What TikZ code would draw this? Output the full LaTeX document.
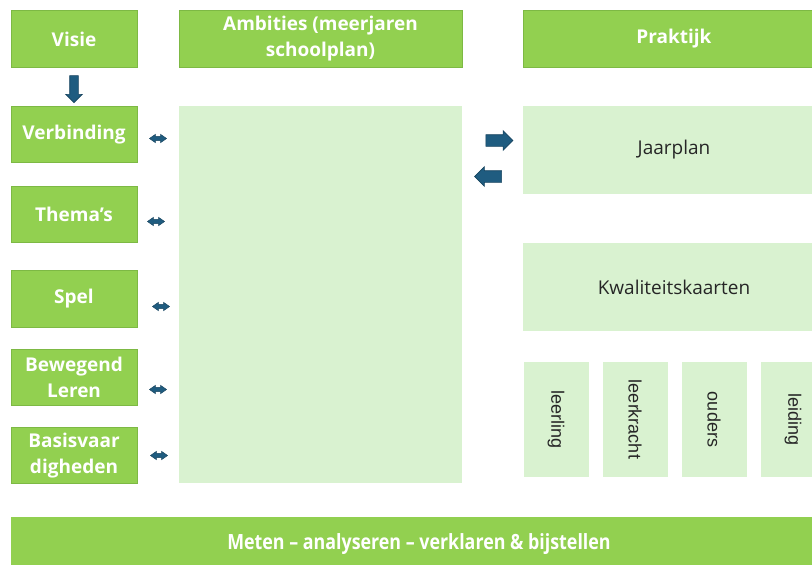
\documentclass[tikz,border=0pt]{standalone}
\usepackage{fontspec}
\setmainfont{Open Sans}
\newfontfamily\staandfont{Liberation Sans}
\usetikzlibrary{calc,shapes.arrows}
\definecolor{groen}{HTML}{92D050}
\definecolor{groenrand}{HTML}{7DB944}
\definecolor{lichtgroen}{HTML}{D9F2D0}
\definecolor{pijlblauw}{HTML}{1F5C80}
\definecolor{pijlrand}{HTML}{17445F}
\tikzset{
    kop/.style={draw=groenrand, fill=groen, text=white, align=center, inner sep=0pt,
        font=\bfseries\fontsize{19}{26}\selectfont},
    vak/.style={fill=lichtgroen, text=black!85, inner sep=0pt,
        font=\fontsize{19}{23}\selectfont},
    staand/.style={vak, rotate=-90, minimum width=115pt, minimum height=65pt,
        font=\staandfont\fontsize{18}{20}\selectfont},
    blokpijl/.style={single arrow, fill=pijlblauw, draw=pijlrand, line width=0.6pt, inner sep=0pt,
        minimum height=27pt},
    dubbelpijl/.style={double arrow, fill=pijlblauw, draw=pijlrand, line width=0.5pt, inner sep=1.9pt,
        double arrow head extend=1.9pt, double arrow tip angle=70, minimum height=17pt}
}
\begin{document}
\begin{tikzpicture}[x=1pt, y=-1pt]
    \useasboundingbox (0,0) rectangle (812,565);
    \clip (0,0) rectangle (812,565);
    % kopjes
    \node[kop, minimum width=126pt, minimum height=57pt, name=visie] at (74, 39) {Visie};
    \node[kop, minimum width=283pt, minimum height=57pt, name=ambities] at (320.5, 39) {Ambities (meerjaren\\schoolplan)};
    \node[kop, minimum width=302pt, minimum height=57pt, name=praktijk] at (674, 39) {Praktijk};
    % linker kolom
    \node[kop, minimum width=126pt, minimum height=56pt, name=verbinding] at (74, 134.5) {Verbinding};
    \node[kop, minimum width=126pt, minimum height=56pt, name=themas] at (74, 214.5) {Thema's};
    \node[kop, minimum width=126pt, minimum height=57pt, name=spel] at (74, 298.5) {Spel};
    \node[kop, minimum width=126pt, minimum height=56pt, name=bewegend] at (74, 377.5) {Bewegend\\Leren};
    \node[kop, minimum width=126pt, minimum height=56pt, name=basis] at (74, 455.5) {Basisvaar\\digheden};
    % midden en rechts
    \node[vak, minimum width=283pt, minimum height=377pt, name=ambities_vak] at (320.5, 294.5) {};
    \node[vak, minimum width=302pt, minimum height=88pt, name=jaarplan] at (674, 150) {Jaarplan};
    \node[vak, minimum width=302pt, minimum height=88pt, name=kwaliteit] at (674, 287) {Kwaliteitskaarten};
    \node[staand, name=leerling] at (556, 419.5) {leerling};
    \node[staand, name=leerkracht] at (635, 419.5) {leerkracht};
    \node[staand, name=ouders] at (714, 419.5) {ouders};
    \node[staand, name=leiding] at (793, 419.5) {leiding};
    \node[kop, draw=none, minimum width=816pt, minimum height=54pt, name=meten,
        font=\bfseries\fontsize{21}{24}\selectfont] at (419, 544)
        {\scalebox{0.85}[1]{Meten -- analyseren -- verklaren \& bijstellen}};
    % pijlen
    \node[blokpijl, minimum width=16pt, single arrow head extend=4pt,
        shape border rotate=270, name=pijl_visie] at ($(visie.south)!0.5!(verbinding.north)$) {\phantom{\rule{8pt}{8pt}}};
    \node[blokpijl, minimum width=19pt, single arrow head extend=4pt,
        name=pijl_heen] at (496.5, 140.5) {\phantom{\rule{8pt}{11pt}}};
    \node[blokpijl, minimum width=19pt, single arrow head extend=4pt,
        shape border rotate=180, name=pijl_terug] at (491, 176.5) {\phantom{\rule{8pt}{11pt}}};
    \node[dubbelpijl, name=dp_1] at (158, 138.5) {};
    \node[dubbelpijl, name=dp_2] at (156, 221.5) {};
    \node[dubbelpijl, name=dp_3] at (161, 306.5) {};
    \node[dubbelpijl, name=dp_4] at (158, 389.5) {};
    \node[dubbelpijl, name=dp_5] at (159, 455.5) {};
\end{tikzpicture}
\end{document}
